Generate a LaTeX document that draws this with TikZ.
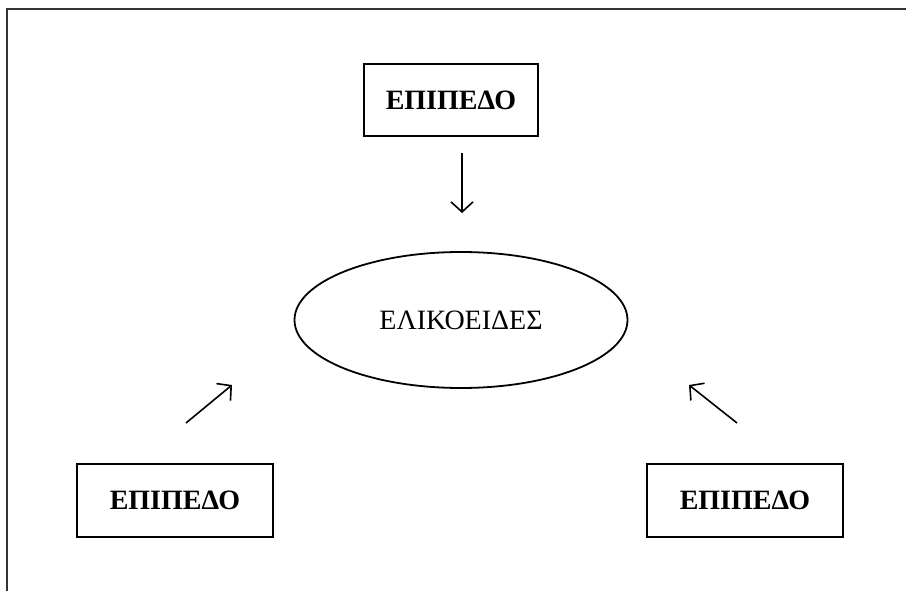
\documentclass[tikz,border=0pt]{standalone}
\usepackage{fontspec}
\setmainfont{Liberation Serif}
\usetikzlibrary{shapes.geometric,arrows.meta}
\tikzset{
  boxnode/.style={draw, line width=2.2pt, minimum width=#1, minimum height=73pt, inner sep=0pt, font=\fontsize{28}{32}\selectfont\bfseries},
  ellnode/.style={draw, ellipse, line width=1.8pt, minimum width=333pt, minimum height=136pt, inner sep=0pt, font=\fontsize{28}{32}\selectfont},
  arr/.style={line width=1.6pt, -{Straight Barb[length=10pt,width=22pt,line width=1.6pt]}},
  frame/.style={line width=2.2pt, black!80}
}
\begin{document}
\begin{tikzpicture}[x=1pt,y=-1pt]
\useasboundingbox (0,0) rectangle (906,591);
\coordinate (fa) at (906,9);
\coordinate (fb) at (7,9);
\coordinate (fc) at (7,591);
\draw[frame] (fa) -- (fb) -- (fc);
\node[boxnode=174pt, minimum height=72pt] (top) at (451,100) {ΕΠΙΠΕΔΟ};
\node[boxnode=196pt] (bl) at (175,500.5) {ΕΠΙΠΕΔΟ};
\node[boxnode=196pt] (br) at (745,500.5) {ΕΠΙΠΕΔΟ};
\node[ellnode] (ell) at (461,320) {ΕΛΙΚΟΕΙΔΕΣ};
\coordinate (t1) at (462,153);
\coordinate (t2) at (462,213);
\coordinate (l1) at (186,423);
\coordinate (l2) at (232,385);
\coordinate (r1) at (737,423);
\coordinate (r2) at (689,385);
\draw[arr] (t1) -- (t2);
\draw[arr] (l1) -- (l2);
\draw[arr] (r1) -- (r2);
\end{tikzpicture}
\end{document}
